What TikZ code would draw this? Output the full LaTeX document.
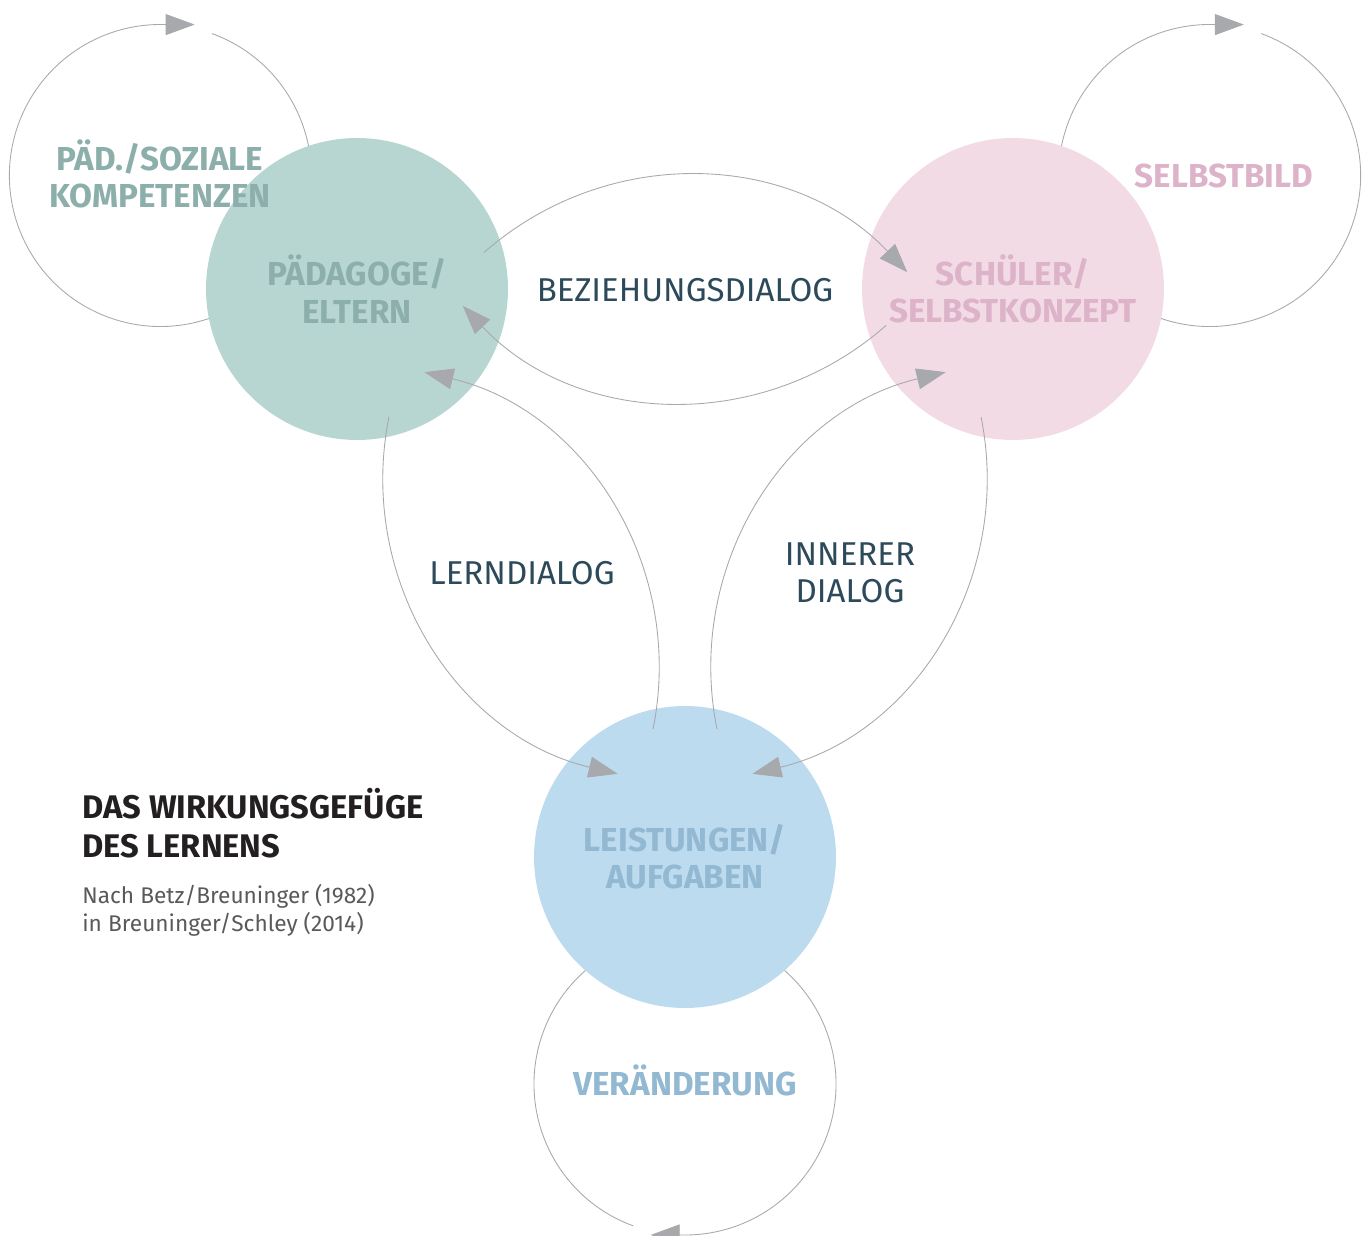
\documentclass[tikz,border=0pt]{standalone}
\usepackage{fontspec}
\setmainfont{Fira Sans}
\usetikzlibrary{arrows.meta,calc}

\definecolor{linegray}{HTML}{A7A9AC}
\definecolor{pedfill}{HTML}{B8D6D1}
\definecolor{pedtext}{HTML}{8DAFAB}
\definecolor{stufill}{HTML}{F3DBE5}
\definecolor{stutext}{HTML}{DCB3C8}
\definecolor{taskfill}{HTML}{BDDBEE}
\definecolor{tasktext}{HTML}{92B8D2}
\definecolor{dialogtext}{HTML}{2D4A5A}
\definecolor{titletext}{HTML}{231F20}
\definecolor{sourcetext}{HTML}{58595B}

\tikzset{
  arrowline/.style={draw=linegray, line width=0.5pt,
    -{Triangle[length=0.58cm, width=0.42cm]}},
  bigcircle/.style={circle, minimum size=6.04cm, inner sep=0pt, align=center,
    font=\bfseries\fontsize{18.9}{21.3}\selectfont},
  looplabel/.style={align=center, inner sep=0pt,
    font=\bfseries\fontsize{18.9}{21.3}\selectfont},
  dialoglabel/.style={align=center, inner sep=0pt, text=dialogtext,
    font=\fontsize{18.8}{21}\selectfont},
}

\begin{document}
\begin{tikzpicture}[x=0.02cm, y=-0.02cm]
  \useasboundingbox (0,0) rectangle (1368,1236);

  % self loops
  \coordinate (pedloop) at (160.4,175.5);
  \coordinate (stuloop) at (1209.6,175.5);
  \coordinate (taskloop) at (685,1084);
  \draw[arrowline] (pedloop) ++(-70:151) arc[start angle=-70, end angle=272, radius=151] -- ++(29,0);
  \draw[arrowline] (stuloop) ++(-70:151) arc[start angle=-70, end angle=272, radius=151] -- ++(29,0);
  \draw[arrowline] (taskloop) ++(110:151) arc[start angle=110, end angle=452, radius=151] -- ++(-29,0);

  % main circles
  \node[bigcircle, fill=pedfill, text=pedtext] (ped) at (357,289) {PÄDAGOGE/\\ELTERN};
  \node[bigcircle, fill=stufill, text=stutext] (stu) at (1013,289) {SCHÜLER/\\SELBSTKONZEPT};
  \node[bigcircle, fill=taskfill, text=tasktext] (task) at (685,857) {LEISTUNGEN/\\AUFGABEN};

  \node[looplabel, text=pedtext] (pedlooplabel) at (160,174) {PÄD./SOZIALE\\KOMPETENZEN};
  \node[looplabel, text=stutext] (stulooplabel) at (1224,176) {SELBSTBILD};
  \node[looplabel, text=tasktext] (tasklooplabel) at (685,1080) {VERÄNDERUNG};

  % dialogs
  \draw[arrowline] ($(ped)+(-16:132)$) to[bend left=44] ($(stu)+(189:107)$);
  \draw[arrowline] ($(stu)+(164:132)$) to[bend left=44] ($(ped)+(9:107)$);
  \draw[arrowline] ($(ped)+(76:132)$) to[bend right=44] ($(task)+(231:107)$);
  \draw[arrowline] ($(task)+(256:132)$) to[bend right=44] ($(ped)+(51:107)$);
  \draw[arrowline] ($(stu)+(104:132)$) to[bend left=44] ($(task)+(309:107)$);
  \draw[arrowline] ($(task)+(284:132)$) to[bend left=44] ($(stu)+(129:107)$);

  \node[dialoglabel] (relation) at (685,290) {BEZIEHUNGSDIALOG};
  \node[dialoglabel] (learning) at (522,573) {LERNDIALOG};
  \node[dialoglabel] (inner) at (850,573) {INNERER\\DIALOG};

  % title
  \node[anchor=north west, inner sep=0pt, align=left, text=titletext,
    font=\bfseries\fontsize{18.6}{21.9}\selectfont] (title) at (82,788)
    {DAS WIRKUNGSGEFÜGE\\DES LERNENS};
  \node[anchor=north west, inner sep=0pt, align=left, text=sourcetext,
    font=\fontsize{12.9}{15.9}\selectfont] (source) at (82,884)
    {Nach Betz/Breuninger (1982)\\in Breuninger/Schley (2014)};
\end{tikzpicture}
\end{document}
